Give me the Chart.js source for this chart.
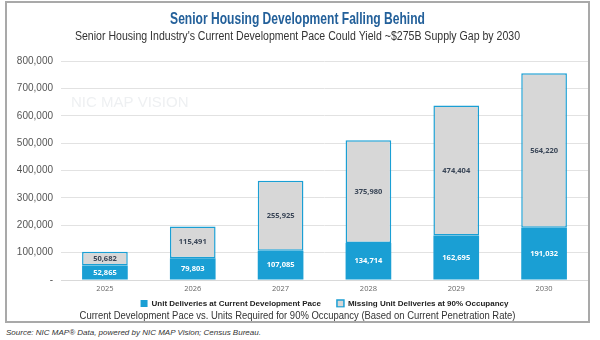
<!DOCTYPE html>
<html>
<head>
<meta charset="utf-8">
<script src="https://cdn.jsdelivr.net/npm/chart.js@4.4.1/dist/chart.umd.min.js"></script>
<style>
  body { margin: 0; background: #fff; width: 600px; height: 340px; position: relative; overflow: hidden; }
  #box { position: absolute; left: 5px; top: 1px; width: 581px; height: 318px; border: 2px solid #a9a9a9; }
  #source { position: absolute; left: 6px; top: 328px; font: italic 8px "Liberation Sans", Arial, sans-serif; color: #333; }
</style>
</head>
<body>
<div id="box"><canvas id="chart" width="581" height="318"></canvas></div>
<div id="source">Source: NIC MAP® Data, powered by NIC MAP Vision; Census Bureau.</div>
<script>
// data
const years = ['2025', '2026', '2027', '2028', '2029', '2030'];
const currentPace = [52865, 79803, 107085, 134714, 162695, 191032];
const missingUnits = [50682, 115491, 255925, 375980, 474404, 564220];
const yMax = 800000;
const yStep = 100000;

const titleText = 'Senior Housing Development Falling Behind';
const subtitleText = "Senior Housing Industry's Current Development Pace Could Yield ~$275B Supply Gap by 2030";
const bottomNote = 'Current Development Pace vs. Units Required for 90% Occupancy (Based on Current Penetration Rate)';
const watermark = 'NIC MAP VISION';

const blue = '#1a9fd4';
const grey = '#d7d7d7';

// text drawn squeezed sideways, the original uses a condensed face
function narrowText(ctx, text, x, y, font, color, squeeze) {
    ctx.save();
    ctx.font = font;
    ctx.fillStyle = color;
    ctx.textAlign = 'center';
    ctx.textBaseline = 'middle';
    ctx.translate(x, y);
    ctx.scale(squeeze, 1);
    ctx.fillText(text, 0, 0);
    ctx.restore();
}

// title, subtitle and the line under the legend
const headings = {
    id: 'headings',
    afterDraw(chart) {
        const ctx = chart.ctx;
        const mid = chart.width / 2;
        narrowText(ctx, titleText, mid, 16, 'bold 17px "Liberation Sans", sans-serif', '#23609a', 0.71);
        narrowText(ctx, subtitleText, mid, 34, '12px "Liberation Sans", sans-serif', '#333', 0.88);
        narrowText(ctx, bottomNote, mid, chart.height - 5, '11px "Liberation Sans", sans-serif', '#333', 0.86);
    }
};

// value labels inside the bar segments
const barLabels = {
    id: 'barLabels',
    afterDatasetsDraw(chart) {
        const ctx = chart.ctx;
        ctx.save();
        ctx.font = 'bold 7.5px "Open Sans", sans-serif';
        ctx.textAlign = 'center';
        ctx.textBaseline = 'middle';
        chart.data.datasets.forEach((ds, i) => {
            chart.getDatasetMeta(i).data.forEach((bar, j) => {
                ctx.fillStyle = i === 0 ? '#ffffff' : '#3a4657';
                ctx.fillText(ds.data[j].toLocaleString('en-US'), bar.x, (bar.y + bar.base) / 2);
            });
        });
        ctx.restore();
    }
};

// faint logo text behind the bars
const logoText = {
    id: 'logoText',
    beforeDatasetsDraw(chart) {
        const ctx = chart.ctx;
        const area = chart.chartArea;
        ctx.save();
        ctx.font = '15px "Liberation Sans", sans-serif';
        ctx.fillStyle = '#eef0f2';
        ctx.textBaseline = 'middle';
        ctx.fillText(watermark, area.left + 10, area.top + 42);
        ctx.restore();
    }
};

// legend items sit wide apart but close under the axis labels
const legendLift = {
    id: 'legendLift',
    afterLayout(chart) {
        chart.legend.top -= 13.5;
        chart.legend.bottom -= 13.5;
    }
};

new Chart(document.getElementById('chart'), {
    type: 'bar',
    data: {
        labels: years,
        datasets: [
            {
                label: 'Unit Deliveries at Current Development Pace',
                data: currentPace,
                backgroundColor: blue,
                borderWidth: 0
            },
            {
                label: 'Missing Unit Deliveries at 90% Occupancy',
                data: missingUnits,
                backgroundColor: grey,
                borderColor: blue,
                borderWidth: 1.5,
                borderSkipped: false
            }
        ]
    },
    options: {
        responsive: false,
        animation: false,
        barPercentage: 0.52,
        categoryPercentage: 1,
        layout: { padding: { left: 0, right: 0, top: 58, bottom: 0 } },
        plugins: {
            title: { display: false },
            legend: {
                position: 'bottom',
                fullSize: false,
                maxHeight: 24,
                labels: {
                    boxWidth: 7,
                    boxHeight: 7,
                    padding: 16,
                    color: '#222',
                    font: { family: '"Liberation Sans", sans-serif', size: 8, weight: 'bold' }
                }
            },
            tooltip: { enabled: false }
        },
        scales: {
            x: {
                stacked: true,
                grid: { display: false, drawTicks: false },
                border: { display: true, color: '#d9d9d9' },
                ticks: { color: '#666', padding: 4, font: { family: '"Open Sans", sans-serif', size: 7.5 } }
            },
            y: {
                stacked: true,
                min: 0,
                max: yMax,
                grid: { color: '#e2e2e2', drawTicks: false },
                border: { display: false },
                ticks: {
                    stepSize: yStep,
                    padding: 8,
                    color: '#555',
                    font: { family: '"Liberation Sans", sans-serif', size: 10 },
                    callback: v => v === 0 ? '-' : v.toLocaleString('en-US')
                },
                afterFit(scale) { scale.width = 54; }
            }
        }
    },
    plugins: [legendLift, logoText, barLabels, headings]
});
</script>
</body>
</html>
